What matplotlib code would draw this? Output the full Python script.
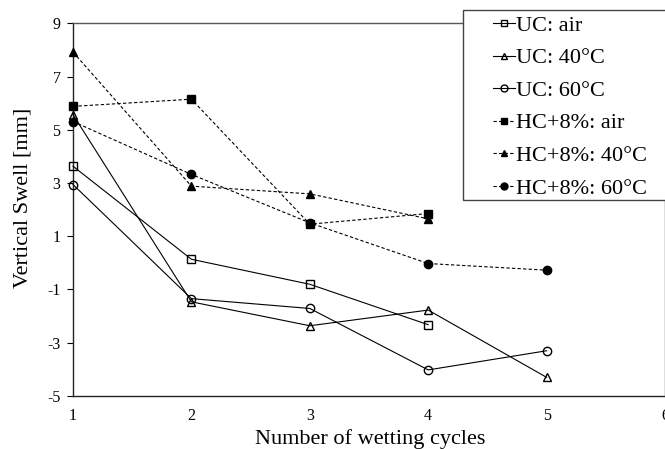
import matplotlib
matplotlib.use("Agg")
import matplotlib.pyplot as plt
from matplotlib.patches import Rectangle

plt.rcParams['font.family'] = ['Liberation Serif', 'DejaVu Serif']
plt.rcParams['axes.unicode_minus'] = False

# wetting cycles
cycles = [1, 2, 3, 4, 5]

# vertical swell [mm]
uc_air = [3.63, 0.13, -0.81, -2.33]
uc_40 = [5.57, -1.47, -2.37, -1.78, -4.31]
uc_60 = [2.94, -1.35, -1.72, -4.03, -3.31]
hc_air = [5.88, 6.15, 1.45, 1.85]
hc_40 = [7.92, 2.88, 2.59, 1.65]
hc_60 = [5.31, 3.32, 1.5, -0.03, -0.28]

labels = ["UC: air", "UC: 40°C", "UC: 60°C",
          "HC+8%: air", "HC+8%: 40°C", "HC+8%: 60°C"]
yticks = [-5, -3, -1, 1, 3, 5, 7, 9]
xticks = [1, 2, 3, 4, 5, 6]

fig = plt.figure(figsize=(6.65, 4.49), dpi=100)
ax = fig.add_axes([0.1098, 0.1187, 0.8902, 0.8292])

series = [
    (uc_air, 's', 'none', '-'),
    (uc_40, '^', 'none', '-'),
    (uc_60, 'o', 'none', '-'),
    (hc_air, 's', 'black', (0, (3, 2))),
    (hc_40, '^', 'black', (0, (3, 2))),
    (hc_60, 'o', 'black', (0, (3, 2))),
]

for (vals, mk, fc, ls), lab in zip(series, labels):
    ax.plot(cycles[:len(vals)], vals, linestyle=ls, color='black', lw=0.8,
            marker=mk, markersize=6, markerfacecolor=fc,
            markeredgecolor='black', markeredgewidth=1.0, label=lab,
            clip_on=False, zorder=3)

ax.set_xlim(1, 6)
ax.set_ylim(-5, 9)
ax.set_xticks(xticks)
ax.set_yticks(yticks)
ax.tick_params(axis='x', length=0, pad=8.5, labelsize=11.5)
ax.tick_params(axis='y', length=4, width=0.8, direction='out', pad=5,
               labelsize=11.5)

for s in ['left', 'bottom']:
    ax.spines[s].set_color('#222222')
    ax.spines[s].set_linewidth(1.0)
for s in ['top', 'right']:
    ax.spines[s].set_color('#555555')
    ax.spines[s].set_linewidth(1.0)

ax.set_xlabel("Number of wetting cycles", fontsize=16)
ax.set_ylabel("Vertical Swell [mm]", fontsize=16)
ax.xaxis.set_label_coords(0.502, -0.09)
ax.yaxis.set_label_coords(-0.069, 0.531)

# legend box, drawn as a separate frame so the padding matches
box = Rectangle((0.696, 0.5546), 0.32, 0.4231, transform=fig.transFigure,
                facecolor='white', edgecolor='#444444', lw=1.0, zorder=3)
fig.patches.append(box)

handles, labs = ax.get_legend_handles_labels()
leg = fig.legend(handles, labs, loc='upper left',
                 bbox_to_anchor=(0.741, 0.966), fontsize=16,
                 handlelength=1.0, handletextpad=0.05, labelspacing=0.54,
                 borderpad=0, borderaxespad=0, frameon=False)
leg.set_zorder(5)
for h in leg.legend_handles:
    h.set_markersize(5)

fig.savefig("out.png", dpi=100)
